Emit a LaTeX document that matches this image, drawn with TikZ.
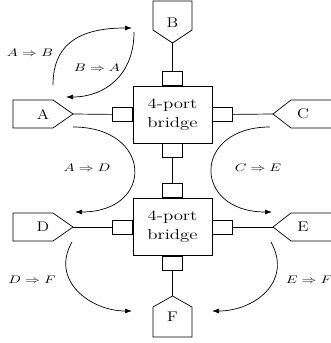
\documentclass[tikz,border=0pt]{standalone}
\usepackage{graphicx}
\usetikzlibrary{arrows.meta}
\newcommand{\sx}[1]{\scalebox{1.3}[1]{#1}}
\newcommand{\sxl}[1]{\scalebox{1.35}[1]{#1}}
\begin{document}
\begin{tikzpicture}[x=1pt,y=-1pt,line width=0.7pt,
  bridge/.style={draw,minimum width=79pt,minimum height=57pt,inner sep=0pt,align=center,font=\fontsize{14.5}{19}\selectfont},
  port/.style={draw,minimum width=20pt,minimum height=14pt,inner sep=0pt},
  term/.style={inner sep=0pt,font=\fontsize{14}{17}\selectfont},
  lbl/.style={inner sep=0pt,font=\fontsize{10.5}{12}\selectfont},
  flow/.style={-{Latex[length=7pt,width=5pt]}}]
\useasboundingbox (0,0) rectangle (331,343);
\clip (0,0) rectangle (331,343);
% bridges
\node[bridge] (b1) at (172.5,114.5) {\sx{4-port}\\\sx{bridge}};
\node[bridge] (b2) at (172.5,227) {\sx{4-port}\\\sx{bridge}};
% ports
\node[port,anchor=east]  (b1w) at (b1.west) {};
\node[port,anchor=west]  (b1e) at (b1.east) {};
\node[port,anchor=south] (b1n) at (b1.north) {};
\node[port,anchor=north] (b1s) at (b1.south) {};
\node[port,anchor=east]  (b2w) at (b2.west) {};
\node[port,anchor=west]  (b2e) at (b2.east) {};
\node[port,anchor=south] (b2n) at (b2.north) {};
\node[port,anchor=north] (b2s) at (b2.south) {};
% terminals
\draw (13,100) -- (53,100) -- (73,114) coordinate (tA) -- (53,128) -- (13,128) -- cycle;
\node[term] (A) at (43,114) {\scalebox{1.2}[1]{A}};
\draw (333,100) -- (291,100) -- (273,114) coordinate (tC) -- (291,128) -- (333,128) -- cycle;
\node[term] (C) at (303,114) {\scalebox{1.2}[1]{C}};
\draw (13,213) -- (53,213) -- (73,227) coordinate (tD) -- (53,241) -- (13,241) -- cycle;
\node[term] (D) at (43,227) {\scalebox{1.2}[1]{D}};
\draw (333,213) -- (291,213) -- (273,227) coordinate (tE) -- (291,241) -- (333,241) -- cycle;
\node[term] (E) at (303,227) {\scalebox{1.2}[1]{E}};
\draw (153,1) -- (192,1) -- (192,30) -- (172.5,43) coordinate (tB) -- (153,30) -- cycle;
\node[term] (B) at (172.5,23) {\scalebox{1.2}[1]{B}};
\draw (153,337) -- (192,337) -- (192,307) -- (172.5,296) coordinate (tF) -- (153,307) -- cycle;
\node[term] (F) at (172.5,317) {\scalebox{1.2}[1]{F}};
% wires
\draw (tA) -- (b1w);
\draw (tC) -- (b1e);
\draw (tB) -- (b1n);
\draw (b1s) -- (b2n);
\draw (tD) -- (b2w);
\draw (tE) -- (b2e);
\draw (b2s) -- (tF);
% flow arrows
\coordinate (s1) at (53,85);   \coordinate (e1) at (132,28);
\coordinate (s2) at (134,32);  \coordinate (e2) at (66,97);
\coordinate (s3) at (73,127);  \coordinate (e3) at (75,212);
\coordinate (s4) at (270,127); \coordinate (e4) at (272,212);
\coordinate (s5) at (72,242);  \coordinate (e5) at (132,311);
\coordinate (s6) at (271,242); \coordinate (e6) at (212,311);
\draw[flow] (s1) .. controls (53,40) and (85,28) .. (e1);
\draw[flow] (s2) .. controls (134,75) and (105,97) .. (e2);
\draw[flow] (s3) .. controls (153,127) and (155,212) .. (e3);
\draw[flow] (s4) .. controls (192,127) and (192,212) .. (e4);
\draw[flow] (s5) .. controls (50,280) and (90,311) .. (e5);
\draw[flow] (s6) .. controls (293,282) and (254,311) .. (e6);
% labels
\node[lbl] (l1) at (30,53)   {\sxl{$A\Rightarrow B$}};
\node[lbl] (l2) at (97,68)   {\sxl{$B\Rightarrow A$}};
\node[lbl] (l3) at (87,168)  {\sxl{$A\Rightarrow D$}};
\node[lbl] (l4) at (258,168) {\sxl{$C\Rightarrow E$}};
\node[lbl] (l5) at (32,280)  {\sxl{$D\Rightarrow F$}};
\node[lbl] (l6) at (309,280) {\sxl{$E\Rightarrow F$}};
\end{tikzpicture}
\end{document}
